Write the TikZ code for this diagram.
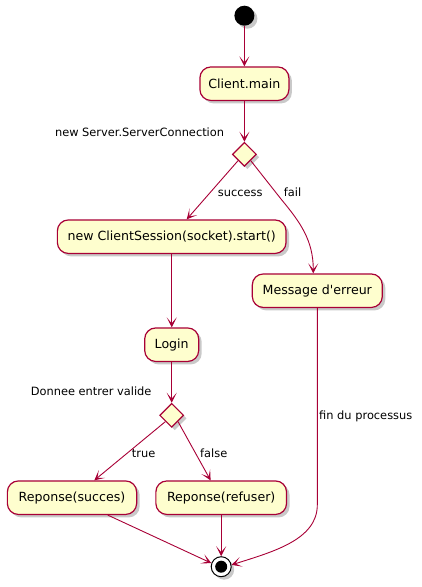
\documentclass[tikz,border=0pt]{standalone}
\usepackage{fontspec}
\setmainfont{DejaVu Sans}
\usepackage{tikz}
\usetikzlibrary{arrows.meta,shapes.geometric,shadows}
\definecolor{umlred}{HTML}{A80036}
\definecolor{umlfill}{HTML}{FEFECE}

\begin{document}
\begin{tikzpicture}[x=1pt,y=-1pt,
  shade/.style={drop shadow={shadow xshift=3pt,shadow yshift=-3pt,opacity=0.3,fill=black!70}},
  act/.style={draw=umlred,fill=umlfill,line width=1.2pt,rounded corners=11pt,inner sep=0pt,minimum height=33.5pt,font=\fontsize{12.6}{15}\selectfont,shade},
  choice/.style={diamond,draw=umlred,fill=umlfill,line width=1.2pt,inner sep=0pt,minimum size=24pt,shade},
  lbl/.style={inner sep=0pt,font=\fontsize{11.4}{13}\selectfont},
  flow/.style={draw=umlred,line width=0.9pt,-{Stealth[length=10pt,width=10pt,inset=6pt]}}]
\useasboundingbox (0,0) rectangle (421,587);
\node[circle,fill=black,minimum size=20pt,inner sep=0pt,shade] (start) at (244.4,15.7) {};
\node[act,minimum width=89pt] (main) at (244.4,83.7) {Client.main};
\node[choice] (conn) at (244.4,154.3) {};
\node[lbl,anchor=base east] (connlbl) at (224.3,136.3) {new Server.ServerConnection};
\node[act,minimum width=228.7pt] (session) at (171.7,236.7) {new ClientSession(socket).start()};
\node[act,minimum width=130pt] (error) at (317.3,290.7) {Message d\textquotesingle erreur};
\node[act,minimum width=54pt] (login) at (171.7,344.7) {Login};
\node[choice] (valid) at (171.7,415.3) {};
\node[lbl,anchor=base east] (validlbl) at (151.7,395) {Donnee entrer valide};
\node[act,minimum width=129.3pt] (ok) at (72,497.7) {Reponse(succes)};
\node[act,minimum width=130.7pt] (refuse) at (221.2,497.7) {Reponse(refuser)};
\node[circle,draw=black,fill=white,line width=1pt,minimum size=20pt,inner sep=0pt,shade] (stop) at (221.2,566.7) {};
\node[circle,fill=black,minimum size=12pt,inner sep=0pt] (stopdot) at (stop) {};

\node[lbl,anchor=base west] (success) at (217.7,196.7) {success};
\node[lbl,anchor=base west] (fail) at (283.7,196.7) {fail};
\node[lbl,anchor=base west] (true) at (131.7,457.7) {true};
\node[lbl,anchor=base west] (false) at (200,457.7) {false};
\node[lbl,anchor=base west] (finlbl) at (319,419) {fin du processus};

\draw[flow] (start) -- (main);
\draw[flow] (main) -- (conn);
\draw[flow] (conn.south west) -- ([xshift=15pt]session.north);
\draw[flow] (conn.south east) -- (281,199) .. controls (300,222) and (313.3,240) .. ([xshift=-4pt]error.north);
\draw[flow] (session) -- (login);
\draw[flow] (login) -- (valid);
\draw[flow] (valid.south west) -- ([xshift=22.3pt]ok.north);
\draw[flow] (valid.south east) -- ([xshift=-10.6pt]refuse.north);
\draw[flow] ([xshift=35.7pt]ok.south) -- (stop.160);
\draw[flow] (refuse) -- (stop);
\draw[flow] (error.south) -- (317.3,505) .. controls (317.3,540) and (272,552) .. (stop.10);

\end{tikzpicture}
\end{document}
